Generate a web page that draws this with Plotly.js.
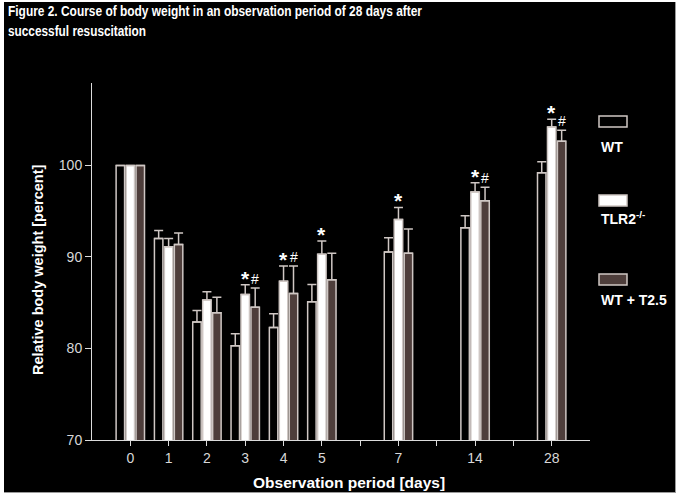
<!DOCTYPE html>
<html>
<head>
<meta charset="utf-8">
<script src="https://cdn.plot.ly/plotly-3.0.1.min.js"></script>
<style>
  html, body { margin: 0; padding: 0; background: #ffffff; width: 683px; height: 499px; overflow: hidden; }
  #chart { position: absolute; left: 4px; top: 2px; width: 671px; height: 490px;
           border-right: 1px solid #9a9a9a; border-bottom: 1px solid #9a9a9a; background: #000; }
</style>
</head>
<body>
<div id="chart"></div>
<script>
// ---- data ----
const days = ['0', '1', '2', '3', '4', '5', '7', '14', '28'];
// axis categories, with unlabeled spacer ticks between 5-7, 7-14, 14-28
const axisCategories = ['0', '1', '2', '3', '4', '5', 'g1', '7', 'g2', '14', 'g3', '28'];
const axisTickText   = ['0', '1', '2', '3', '4', '5', ' ',  '7', ' ',  '14', ' ',  '28'];

const seriesNames = ['WT', 'TLR2<sup>-/-</sup>', 'WT + T2.5'];

const wt     = [100, 92.0, 82.9, 80.3, 82.3, 85.1, 90.55, 93.2, 99.2];
const wtErr  = [0, 0.9, 1.25, 1.3, 1.5, 1.9, 1.55, 1.3, 1.2];
const tlr    = [100, 91.1, 85.3, 85.9, 87.35, 90.3, 94.1, 97.1, 104.2];
const tlrErr = [0, 0.9, 0.9, 1.05, 1.65, 1.45, 1.3, 1.0, 0.85];
const t25    = [100, 91.35, 83.9, 84.5, 86.0, 87.5, 90.4, 96.15, 102.65];
const t25Err = [0, 1.25, 1.7, 2.1, 3.0, 2.9, 2.65, 1.45, 1.2];

const tlrSig = ['', '', '', '*', '*', '*', '*', '*', '*'];
const t25Sig = ['', '', '', '#', '#', '', '', '#', '#'];

const titleLines = ['Figure 2. Course of body weight in an observation period of 28 days after',
                    'successful resuscitation'];
const titleWidths = [414, 138];   // condensed width of each title line (px)

// ---- styles ----
const outline = '#cfc7c4';
const fills = ['#000000', '#ffffff', '#4e3e3b'];
const fontFam = '"Liberation Sans", Arial, sans-serif';

function barTrace(name, y, err, fill) {
  return {
    type: 'bar', name: name, x: days, y: y,
    marker: { color: fill, line: { color: outline, width: 1.5 } },
    error_y: { type: 'data', symmetric: false, array: err,
               arrayminus: err.map(() => 0), color: outline, thickness: 1.5, width: 4.5 },
    hoverinfo: 'skip'
  };
}

const data = [
  barTrace(seriesNames[0], wt, wtErr, fills[0]),
  barTrace(seriesNames[1], tlr, tlrErr, fills[1]),
  barTrace(seriesNames[2], t25, t25Err, fills[2])
];

// geometry helpers (page pixels -> paper coords)
const L = 88, T = 81, W = 498, H = 357, OX = 4, OY = 2;
const px = p => (p - OX - L) / W;
const py = p => (OY + T + H - p) / H;

const annotations = [];
// significance marks (category index positions)
days.forEach((d, i) => {
  const xi = axisCategories.indexOf(d);
  if (tlrSig[i]) annotations.push({
    xref: 'x', yref: 'y', x: xi, y: tlr[i] + tlrErr[i], text: tlrSig[i],
    showarrow: false, xanchor: 'center', yanchor: 'bottom', yshift: -7,
    font: { family: fontFam, size: 21, color: '#ffffff', weight: 'bold' }
  });
  if (t25Sig[i]) annotations.push({
    xref: 'x', yref: 'y', x: xi, y: t25[i] + t25Err[i], text: t25Sig[i],
    showarrow: false, xanchor: 'center', yanchor: 'bottom', xshift: 10, yshift: -1,
    font: { family: fontFam, size: 14, color: '#ffffff' }
  });
});

// title lines
titleLines.forEach((t, i) => {
  annotations.push({
    xref: 'paper', yref: 'paper', x: px(6), y: py(10 + 20 * i), text: t,
    showarrow: false, xanchor: 'left', yanchor: 'middle', align: 'left',
    font: { family: fontFam, size: 15, color: '#ffffff', weight: 'bold' }
  });
});

// axis titles
annotations.push({
  xref: 'paper', yref: 'paper', x: px(38), y: py(270), text: 'Relative body weight [percent]',
  textangle: -90, showarrow: false, xanchor: 'center', yanchor: 'middle',
  font: { family: fontFam, size: 14.5, color: '#ffffff', weight: 'bold' }
});
annotations.push({
  xref: 'paper', yref: 'paper', x: px(349), y: py(482), text: 'Observation period [days]',
  showarrow: false, xanchor: 'center', yanchor: 'middle',
  font: { family: fontFam, size: 15.5, color: '#ffffff', weight: 'bold' }
});

// legend (custom: swatch above label)
const legendBoxY = [[116, 127], [195, 206], [274, 285]];
const legendTextY = [147, 218, 300];
const shapes = [];
seriesNames.forEach((n, i) => {
  shapes.push({
    type: 'rect', xref: 'paper', yref: 'paper',
    x0: px(599), x1: px(627), y0: py(legendBoxY[i][1]), y1: py(legendBoxY[i][0]),
    fillcolor: fills[i], line: { color: outline, width: 1.5 }
  });
  annotations.push({
    xref: 'paper', yref: 'paper', x: px(599), y: py(legendTextY[i]), text: n,
    showarrow: false, xanchor: 'left', yanchor: 'middle',
    font: { family: fontFam, size: 14, color: '#ffffff', weight: 'bold' }
  });
});

const layout = {
  width: 671, height: 490,
  margin: { l: L, r: 671 - L - W, t: T, b: 490 - T - H, pad: 0 },
  paper_bgcolor: '#000000', plot_bgcolor: '#000000',
  barmode: 'group', bargap: 0.22, bargroupgap: 0.15,
  showlegend: false,
  xaxis: {
    type: 'category', categoryorder: 'array', categoryarray: axisCategories,
    tickmode: 'array', tickvals: axisCategories, ticktext: axisTickText,
    range: [-1, 12], showgrid: false, zeroline: false,
    showline: true, linecolor: '#dcdcdc', linewidth: 1,
    ticks: 'outside', ticklen: 5, tickcolor: '#dcdcdc', tickwidth: 1,
    tickfont: { family: fontFam, size: 14, color: '#d8d8d8' }
  },
  yaxis: {
    range: [70, 109], tickvals: [70, 80, 90, 100],
    showgrid: false, zeroline: false,
    showline: true, linecolor: '#dcdcdc', linewidth: 1,
    ticks: 'outside', ticklen: 6, tickcolor: '#dcdcdc', tickwidth: 1,
    tickfont: { family: fontFam, size: 14, color: '#d8d8d8' }
  },
  annotations: annotations,
  shapes: shapes
};

Plotly.newPlot('chart', data, layout, { displayModeBar: false, staticPlot: true }).then(gd => {
  // condense the title lines (reference uses a narrow typeface)
  gd.querySelectorAll('text.annotation-text').forEach(el => {
    const k = titleLines.indexOf(el.textContent);
    if (k >= 0) {
      el.setAttribute('textLength', titleWidths[k]);
      el.setAttribute('lengthAdjust', 'spacingAndGlyphs');
    }
  });
});
</script>
</body>
</html>
